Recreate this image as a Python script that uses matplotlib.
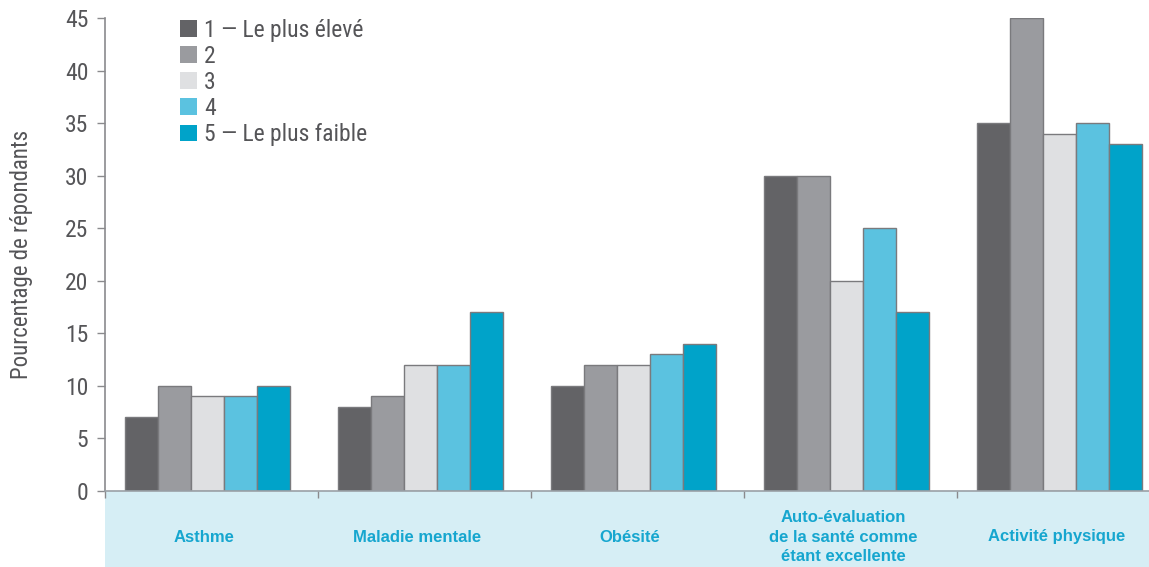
import matplotlib
matplotlib.use("Agg")
import matplotlib.pyplot as plt
from matplotlib.patches import Rectangle, Patch
from matplotlib.transforms import blended_transform_factory
from matplotlib import font_manager as fm
import numpy as np

categories = ["Asthme", "Maladie mentale", "Obésité",
              "Auto-évaluation\nde la santé comme\nétant excellente", "Activité physique"]
series_labels = ["1 — Le plus élevé", "2", "3", "4", "5 — Le plus faible"]
q1 = [7, 8, 10, 30, 35]
q2 = [10, 9, 12, 30, 45]
q3 = [9, 12, 12, 20, 34]
q4 = [9, 12, 13, 25, 35]
q5 = [10, 17, 14, 17, 33]
series = [q1, q2, q3, q4, q5]
yticks = [0, 5, 10, 15, 20, 25, 30, 35, 40, 45]
colors = ["#636366", "#9a9b9f", "#dfe0e2", "#5bc2e0", "#00a3c9"]

available = {f.name for f in fm.fontManager.ttflist}
narrow_pref = ["Roboto Condensed", "Archivo Narrow", "PT Sans Narrow", "Liberation Sans Narrow",
               "Barlow Semi Condensed", "Asap Condensed"]
narrow = [n for n in narrow_pref if n in available][:1] + ["DejaVu Sans"]

W, H = 1149, 567
fig = plt.figure(figsize=(W / 100, H / 100), dpi=100)
txtc = "#555558"

left, right, bottom, top = 105 / W, 1.0, (H - 491) / H, (H - 18) / H
band = Rectangle((left, 0), right - left, bottom, transform=fig.transFigure,
                 facecolor="#d6eef5", edgecolor="none", zorder=-5)
fig.patches.append(band)
ax = fig.add_axes([left, bottom, right - left, top - bottom])
ax.set_facecolor("none")

x = np.arange(len(categories))
bw = 0.155
for i, (vals, c) in enumerate(zip(series, colors)):
    ax.bar(x + (i - 2) * bw - 0.02, vals, width=bw, color=c, edgecolor="#7a7a7d",
           linewidth=1.0, zorder=2)

ax.set_xlim(-0.5, 4.40)
ax.set_ylim(0, 45)
ax.set_yticks(yticks)
ax.set_yticklabels([str(v) for v in yticks], family=narrow, fontsize=17, color=txtc)
ax.tick_params(axis="y", length=6, width=1, color="#8a8a8d", pad=6)
ax.set_xticks(np.arange(-0.5, 4.5, 1.0))
ax.set_xticklabels([])
ax.tick_params(axis="x", length=5, width=1, color="#8a8a8d", direction="out")
for s in ["top", "right"]:
    ax.spines[s].set_visible(False)
ax.spines["left"].set_color("#8a8a8d")
ax.spines["bottom"].set_color("#9aa0a6")
ax.spines["left"].set_linewidth(1.2)
ax.spines["bottom"].set_linewidth(1.2)

ax.set_ylabel("Pourcentage de répondants", family=narrow, fontsize=16.5, color=txtc)
ax.yaxis.set_label_coords(-0.069, 0.5)

tr = blended_transform_factory(ax.transData, fig.transFigure)
for xi, cat in zip(x, categories):
    ax.text(xi - 0.035, (H - 537) / H, cat, transform=tr, ha="center", va="center",
            fontsize=12, fontweight="bold", color="#16a6cf",
            family=["Liberation Sans", "DejaVu Sans"], linespacing=1.38, clip_on=False, zorder=5)

handles = [Patch(facecolor=c, edgecolor="none") for c in colors]
leg = ax.legend(handles, series_labels, loc="upper left",
                bbox_to_anchor=((180 - 105) / (W - 105), 0.998),
                frameon=False, prop={"family": narrow, "size": 17}, handlelength=0.72,
                handleheight=0.72, handletextpad=0.3, labelspacing=0.13, borderaxespad=0,
                borderpad=0)
for t in leg.get_texts():
    t.set_color(txtc)

fig.savefig("out.png", dpi=100)
